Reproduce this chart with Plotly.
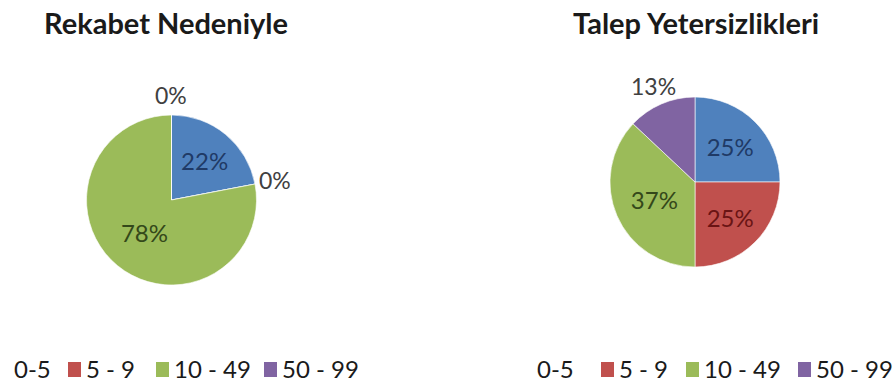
import math
import plotly.graph_objects as go

# Firm-size classes (number of employees)
size_classes = ["0-5", "5 - 9", "10 - 49", "50 - 99"]
slice_colors = ["#4F81BD", "#C0504D", "#9BBB59", "#8064A2"]

# Share of firms per size class (%)
rekabet_values = [22, 0, 78, 0]
talep_values = [25, 25, 37, 13]

titles = ["Rekabet Nedeniyle", "Talep Yetersizlikleri"]

W, H = 894, 385
FONT = "Lato"
PIE_R = 85


def px_domain(cx, cy, r):
    """Square pie domain (paper fractions) for a centre and radius in pixels."""
    return dict(x=[(cx - r) / W, (cx + r) / W],
                y=[(H - cy - r) / H, (H - cy + r) / H])


fig = go.Figure()
annotations = []

# Per-slice label colours (dark shades of each slice colour, grey outside)
inside_text_colors = ["#1F3A66", "#6A1414", "#34481A", "#3D2D5A"]
outside_text_color = "#404040"


def add_pie(values, cx, cy, positions):
    inside_pos = ["inside" if p == "inside" else "none" for p in positions]
    fig.add_trace(go.Pie(
        labels=size_classes,
        values=values,
        domain=px_domain(cx, cy, PIE_R),
        sort=False,
        direction="clockwise",
        rotation=0,
        marker=dict(colors=slice_colors,
                    line=dict(color="rgba(255,255,255,0.6)", width=1)),
        texttemplate="%{value}%",
        textposition=inside_pos,
        insidetextorientation="horizontal",
        textfont=dict(family=FONT, size=24, color=inside_text_colors),
        showlegend=False,
        hoverinfo="label+value",
    ))
    # Outside labels, centred on each slice's mid-angle just beyond the rim
    total = sum(values)
    start = 0.0
    for v, p in zip(values, positions):
        mid = (start + v / 2) / total * 2 * math.pi
        start += v
        if p != "outside":
            continue
        r_lab = PIE_R + 20
        x = cx + r_lab * math.sin(mid)
        y = cy - r_lab * math.cos(mid)
        annotations.append(dict(
            text=f"{v}%", x=x / W, y=1 - y / H,
            xref="paper", yref="paper", xanchor="center", yanchor="middle",
            showarrow=False,
            font=dict(family=FONT, size=23, color=outside_text_color),
        ))


add_pie(rekabet_values, 171.5, 200, ["inside", "outside", "inside", "outside"])
add_pie(talep_values, 695, 182, ["inside", "inside", "inside", "outside"])

# Chart titles
for title, cx in zip(titles, [166, 696]):
    annotations.append(dict(
        text=f"<b>{title}</b>", x=cx / W, y=1 - 22 / H,
        xref="paper", yref="paper", xanchor="center", yanchor="middle",
        showarrow=False, font=dict(family=FONT, size=29, color="#1A1A1A"),
    ))

shapes = []
# Legend keys under each chart
legend_rows = [
    [12, 84, 172, 280],    # left chart: x of each key's text
    [535, 617, 702, 814],  # right chart
]
legend_y = 368
for xs in legend_rows:
    for i, (name, x0) in enumerate(zip(size_classes, xs)):
        annotations.append(dict(
            text=name, x=x0 / W, y=1 - legend_y / H,
            xref="paper", yref="paper", xanchor="left", yanchor="middle",
            showarrow=False, font=dict(family=FONT, size=24, color="#1A1A1A"),
        ))
        if i > 0:  # the first key is shown as text only
            shapes.append(dict(
                type="rect", xref="paper", yref="paper",
                x0=(x0 - 16) / W, x1=(x0 - 3) / W,
                y0=1 - 377 / H, y1=1 - 362 / H,
                fillcolor=slice_colors[i], line=dict(width=0),
            ))

fig.update_layout(
    width=W, height=H,
    margin=dict(l=0, r=0, t=0, b=0, autoexpand=False),
    paper_bgcolor="white", plot_bgcolor="white",
    annotations=annotations, shapes=shapes,
    font=dict(family=FONT),
)

fig.write_html("out.html")
